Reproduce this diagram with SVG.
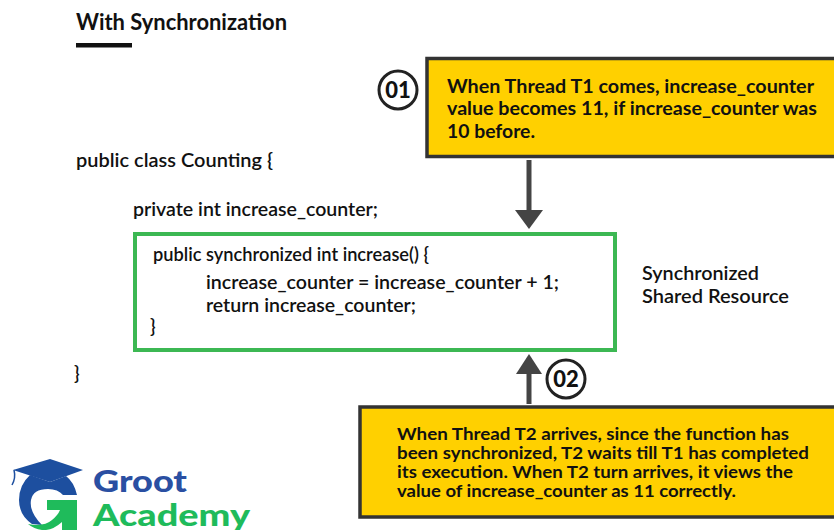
<svg xmlns="http://www.w3.org/2000/svg" width="834" height="530" viewBox="0 0 834 530">
<style>
text{font-family:"Lato","Open Sans",sans-serif;font-weight:700;fill:#111}
.t{font-size:19.5px}
.c{font-size:18.500px;font-weight:600}
.s{font-size:17px}
.n{font-size:22px;font-weight:900;text-anchor:middle}
.box{fill:#ffd000;stroke:#333;stroke-width:3.5}
.num{fill:#fff;stroke:#222;stroke-width:3}
.conn{stroke:#444;stroke-width:5;fill:none}
.head{fill:#444}
</style>
<rect width="834" height="530" fill="#fff"/>
<g id="title">
<text x="76" y="29.500" font-size="22.5" textLength="211" lengthAdjust="spacingAndGlyphs">With Synchronization</text>
<rect x="76" y="43" width="56" height="4.500" fill="#111"/>
</g>
<g id="code">
<text class="c" x="76" y="167" textLength="197" lengthAdjust="spacingAndGlyphs">public class Counting {</text>
<text class="c" x="133" y="215.500" textLength="245" lengthAdjust="spacingAndGlyphs">private int increase_counter;</text>
<text class="c" x="74" y="380">}</text>
</g>
<g id="shared-resource">
<rect x="135" y="234" width="480" height="116" fill="#fff" stroke="#3cb853" stroke-width="4"/>
<text class="c" x="153" y="261" textLength="276" lengthAdjust="spacingAndGlyphs">public synchronized int increase() {</text>
<text class="c" x="206" y="288.500" textLength="353" lengthAdjust="spacingAndGlyphs">increase_counter = increase_counter + 1;</text>
<text class="c" x="206" y="311.500" textLength="210" lengthAdjust="spacingAndGlyphs">return increase_counter;</text>
<text class="c" x="150" y="332.500">}</text>
</g>
<g id="shared-label">
<text class="c" x="642" y="279.500" textLength="117" lengthAdjust="spacingAndGlyphs">Synchronized</text>
<text class="c" x="642" y="302.500" textLength="147" lengthAdjust="spacingAndGlyphs">Shared Resource</text>
</g>
<g id="connectors">
<line class="conn" x1="529" y1="160" x2="529" y2="212"/>
<polygon class="head" points="515,210 543,210 529,229"/>
<line class="conn" x1="529" y1="404" x2="529" y2="372"/>
<polygon class="head" points="516,374 542,374 529,354"/>
</g>
<g id="step-01">
<circle class="num" cx="398" cy="90" r="19"/>
<text class="n" x="398" y="97.500">01</text>
</g>
<g id="note-01">
<rect class="box" x="427" y="58.500" width="412" height="98"/>
<text class="t" x="447" y="92.500" textLength="367" lengthAdjust="spacingAndGlyphs">When Thread T1 comes, increase_counter</text>
<text class="t" x="447" y="114.500" textLength="370" lengthAdjust="spacingAndGlyphs">value becomes 11, if increase_counter was</text>
<text class="t" x="447" y="137.500" textLength="88" lengthAdjust="spacingAndGlyphs">10 before.</text>
</g>
<g id="step-02">
<circle class="num" cx="566" cy="379" r="19"/>
<text class="n" x="566" y="386.500">02</text>
</g>
<g id="note-02">
<rect class="box" x="360" y="407" width="480" height="110"/>
<text class="s" x="397" y="439.500" textLength="392" lengthAdjust="spacingAndGlyphs">When Thread T2 arrives, since the function has</text>
<text class="s" x="397" y="458.500" textLength="412" lengthAdjust="spacingAndGlyphs">been synchronized, T2 waits till T1 has completed</text>
<text class="s" x="397" y="477.500" textLength="396" lengthAdjust="spacingAndGlyphs">its execution. When T2 turn arrives, it views the</text>
<text class="s" x="397" y="496.500" textLength="339" lengthAdjust="spacingAndGlyphs">value of increase_counter as 11 correctly.</text>
</g>
<g id="logo">
<path d="M13 470 L50 459 L83 470 L50 482 Z" fill="#1d4f9f"/>
<path d="M14 470 Q16 478 12 485" fill="none" stroke="#1d4f9f" stroke-width="1.500"/>
<path d="M77 495 Q74 482 66 476 L50 482 L30 475 Q19 485 19 500 Q19 515 32 524 L42 525 Q29 512 31 500 Q33 489 48 489 Q58 489 63 495 Z" fill="#1d4f9f"/>
<path d="M47 500 H77 V530 H62 V522 Q52 531 42 530 Q34 529 28 524 Q44 527 52 520 Q58 515 60 510 H47 Z" fill="#1fbb5b"/>
<text x="93" y="492" font-size="31" style="fill:#2a4fa2;font-weight:900" textLength="94" lengthAdjust="spacingAndGlyphs">Groot</text>
<text x="93" y="526" font-size="31" style="fill:#1fbb5b;font-weight:900" textLength="157" lengthAdjust="spacingAndGlyphs">Academy</text>
</g>
</svg>
